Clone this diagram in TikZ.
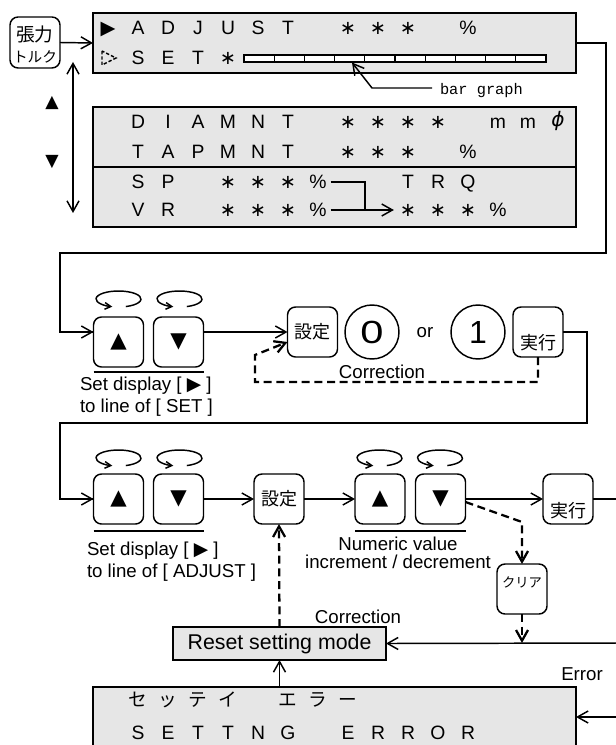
\documentclass[tikz,border=0pt]{standalone}
\usepackage{fontspec}
\usepackage{graphicx}
\setmainfont{Liberation Sans}
\setmonofont{Liberation Mono}
\newfontfamily\cjk{Noto Sans CJK JP}
\newfontfamily\sym{DejaVu Sans}
\usetikzlibrary{arrows.meta,calc}
\definecolor{dispgray}{RGB}{230,230,230}
\newcommand\stx{{\sym ∗}}
\newcommand\loopat[2]{\draw[ln,sarr] ($(#1,#2)+(71:22.5 and 8)$) arc[start angle=71,end angle=-254,x radius=22.5,y radius=8];}
\begin{document}
\begin{tikzpicture}[x=0.75pt,y=-0.75pt,
  every node/.style={inner sep=0pt,outer sep=0pt},
  ln/.style={line width=1.1pt},
  dl/.style={line width=1.7pt,dash pattern=on 6pt off 3.5pt},
  arr/.style={-{Straight Barb[length=8pt,width=9pt]}},
  darr/.style={{Straight Barb[length=8pt,width=9pt]}-{Straight Barb[length=8pt,width=9pt]}},
  sarr/.style={-{Straight Barb[length=4.5pt,width=5pt]}},
  disp/.style={draw,line width=1.1pt,fill=dispgray},
  dch/.style={font=\fontsize{14.5}{16}\selectfont,text height=10.4pt,text depth=0pt},
  dchj/.style={font=\cjk\fontsize{14}{16}\selectfont,text height=10.4pt,text depth=0pt},
  key/.style={draw,line width=1.1pt,rounded corners=6pt,minimum width=37.5pt,minimum height=37.5pt},
  keytri/.style={key,font=\sym\fontsize{16}{18}\selectfont},
  keyj/.style={font=\cjk\fontsize{13.5}{15}\selectfont},
  lbl/.style={font=\fontsize{14}{16}\selectfont,anchor=base west},
  lblc/.style={font=\fontsize{14}{16}\selectfont,anchor=base},
]
\useasboundingbox (0,0) rectangle (616,745);
\clip (0,0) rectangle (616,745);

% ---------- display 1 ----------
\node[disp,minimum width=362.25pt,minimum height=45pt] (disp1) at (334.5,43) {};
\foreach \c/\t in {0/{\sym ▶},1/A,2/D,3/J,4/U,5/S,6/T,8/\stx,9/\stx,10/\stx,12/\%}
  \node[dch] (a\c) at ({108+30*\c},28) {\t};
\foreach \c/\t in {1/S,2/E,3/T,4/\stx}
  \node[dch] (b\c) at ({108+30*\c},58) {\t};
\draw[line width=1.1pt,dash pattern=on 2.5pt off 1.5pt] (102,51) -- (102,65) -- (116,58) -- cycle;
\draw[line width=0.9pt,fill=white] (244,55) rectangle (546,62);
\foreach \i in {1,...,9} \draw[line width=0.9pt] ({244+30.2*\i},55) -- ({244+30.2*\i},62);
\node[font=\ttfamily\fontsize{11.5}{13}\selectfont,anchor=base west] (bgl) at (440,95) {bar graph};
\coordinate (bgs) at (432,88);
\coordinate (bgtip) at (352,62.5);
\draw[ln,arr] (bgs) -- (372,88) -- (bgtip);

% ---------- display 2 ----------
\node[disp,minimum width=362.25pt,minimum height=90pt] (disp2) at (334.5,167) {};
\draw[line width=1.1pt] (disp2.west) -- (disp2.east);
\foreach \c/\t in {1/D,2/I,3/A,4/M,5/N,6/T,8/\stx,9/\stx,10/\stx,11/\stx,13/m,14/m}
  \node[dch] (c\c) at ({108+30*\c},122) {\t};
\node[font=\sym\itshape\fontsize{15}{17}\selectfont] (c15) at (558,121) {ϕ};
\foreach \c/\t in {1/T,2/A,3/P,4/M,5/N,6/T,8/\stx,9/\stx,10/\stx,12/\%}
  \node[dch] (d\c) at ({108+30*\c},152) {\t};
\foreach \c/\t in {1/S,2/P,4/\stx,5/\stx,6/\stx,7/\%,10/T,11/R,12/Q}
  \node[dch] (e\c) at ({108+30*\c},182) {\t};
\foreach \c/\t in {1/V,2/R,4/\stx,5/\stx,6/\stx,7/\%,10/\stx,11/\stx,12/\stx,13/\%}
  \node[dch] (f\c) at ({108+30*\c},210) {\t};
\coordinate (jn) at (365,182);
\draw[ln] ($(e7.east)+(4,0)$) -- (jn) -- (jn |- f7.east);
\draw[ln,arr] ($(f7.east)+(4,0)$) -- ($(f10.west)+(-6,0)$);

% ---------- left side ----------
\node[draw,line width=1.1pt,rounded corners=6pt,minimum width=37.5pt,minimum height=38.25pt] (tk) at (35,42.5) {};
\node[font=\cjk\fontsize{14}{16}\selectfont] (tk1) at (35,34.5) {張力};
\node[font=\cjk\fontsize{11}{13}\selectfont] (tk2) at (35,57) {トルク};
\draw[ln,arr] (tk.east) -- (disp1.west);
\coordinate (va) at (73,62);
\coordinate (vb) at (73,213);
\draw[ln,darr] (va) -- (vb);
\node[font=\sym\fontsize{13}{15}\selectfont] (lup) at (52,103) {▲};
\node[font=\sym\fontsize{13}{15}\selectfont] (ldn) at (52,162) {▼};

% ---------- row 1 ----------
\node[keytri] (u1) at (118.5,342) {▲};
\node[keytri] (d1) at (178.5,342) {▼};
\loopat{118.5}{299}
\loopat{179.5}{299}
\draw[ln] ($(u1.south west)+(0,5)$) -- ($(d1.south east)+(0,5)$);
\node[lbl] (t1a) at (80,390) {Set display [ {\sym ▶} ]};
\node[lbl] (t1b) at (80,412) {to line of [ SET ]};
\node[key,keyj] (s1) at (312.5,332) {設定};
\node[draw,line width=1.1pt,circle,minimum size=40.5pt,font=\fontsize{24}{26}\selectfont] (c0) at (372,332) {\scalebox{1.3}[1]{0}};
\node[lblc] (or) at (425,337) {or};
\node[draw,line width=1.1pt,circle,minimum size=40.5pt,font=\fontsize{24}{26}\selectfont] (c1) at (478,332) {1};
\node[key] (j1) at (538,332) {};
\node[keyj] (j1t) at (538,343) {実行};
\node[lblc] (cor1) at (382,378) {Correction};

\draw[ln] (disp1.east) -- (606,43) -- (606,253) -- (60,253) |- ($(u1.west)+(0,-10)$);
\draw[ln,arr] ($(u1.west)+(-33,-10)$) -- ($(u1.west)+(0,-10)$);
\draw[ln,arr] ($(d1.east)+(0,-10)$) -- (s1.west);
\draw[dl,arr] (j1.south) -- ($(j1.south)+(0,25)$) -| (255,355) -- ($(s1.west)+(0,10)$);

% ---------- row 2 ----------
\draw[ln] (j1.east) -- (587,332) -- (587,423) -- (60,423) |- (93,499);
\node[keytri] (u2) at (118.5,499) {▲};
\node[keytri] (d2) at (178.5,499) {▼};
\draw[ln,arr] ($(u2.west)+(-33,0)$) -- (u2.west);
\loopat{118.5}{458}
\loopat{179.5}{458}
\draw[ln] ($(u2.south west)+(0,7)$) -- ($(d2.south east)+(0,7)$);
\node[lbl] (t2a) at (87,555.5) {Set display [ {\sym ▶} ]};
\node[lbl] (t2b) at (87,577) {to line of [ ADJUST ]};
\node[key,keyj] (s2) at (279,499) {設定};
\node[keytri] (u3) at (380,499) {▲};
\node[keytri] (d3) at (440.5,499) {▼};
\loopat{379.5}{458}
\loopat{440}{458}
\draw[ln] ($(u3.south west)+(0,7)$) -- ($(d3.south east)+(0,7)$);
\node[lblc] (nv1) at (398,550.5) {Numeric value};
\node[lblc] (nv2) at (398,568) {increment / decrement};
\node[key] (j2) at (568,499) {};
\node[keyj] (j2t) at (568,511) {実行};
\node[key] (cl) at (522,589) {};
\node[font=\cjk\fontsize{10}{12}\selectfont] (clt) at (522,582) {クリア};

\draw[ln,arr] (d2.east) -- (s2.west);
\draw[ln,arr] (s2.east) -- (u3.west);
\draw[ln,arr] (d3.east) -- (j2.west);
\draw[ln] (j2.east) -- (620,499);
\draw[dl,arr] ($(d3.east)+(0,3)$) -- (522,522) -- (cl.north);
\coordinate (clj) at (522,643);
\draw[dl,arr] (cl.south) -- (clj);

% ---------- reset / error ----------
\node[draw,line width=1.1pt,fill=dispgray,minimum width=159.75pt,minimum height=24.75pt,font=\fontsize{16}{18}\selectfont] (rs) at (279.5,643.5) {Reset setting mode};
\node[lblc] (cor2) at (358,623) {Correction};
\coordinate (rin) at (620,643);
\draw[ln,arr] (rin) -- (rs.east);
\draw[dl,arr] (rs.north) -- (s2.south);

\node[disp,minimum width=362.25pt,minimum height=58.5pt] (err) at (334.5,726) {};
\foreach \c/\t in {1/セ,2/ッ,3/テ,4/イ,6/エ,7/ラ,8/ー}
  \node[dchj] (g\c) at ({108+30*\c},700) {\t};
\foreach \c/\t in {1/S,2/E,3/T,4/T,5/N,6/G,8/E,9/R,10/R,11/O,12/R}
  \node[dch] (h\c) at ({108+30*\c},733) {\t};
\draw[ln,arr] (err.north -| rs.south) -- (rs.south);
\node[lblc] (errl) at (582,680) {Error};
\coordinate (ein) at (620,717);
\draw[ln,arr] (ein) -- (err.east |- ein);
\end{tikzpicture}
\end{document}
